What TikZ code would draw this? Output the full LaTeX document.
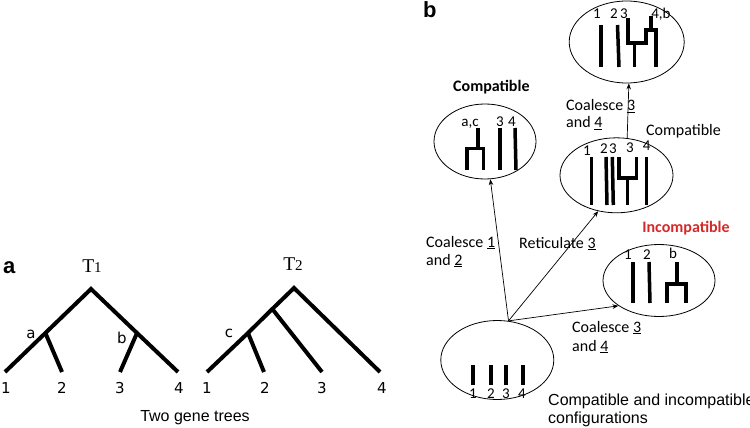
\documentclass[tikz,border=0pt]{standalone}
\usepackage{fontspec}
\setmainfont{Carlito}
\newfontfamily\arialf{Liberation Sans}
\newfontfamily\dejaf{DejaVu Sans}
\newfontfamily\timesf{Liberation Serif}
\usetikzlibrary{shapes.geometric,arrows.meta}
\definecolor{incred}{RGB}{214,40,40}
\begin{document}
\begin{tikzpicture}[x=1pt,y=-1pt,
  branch/.style={line width=4pt},
  bar/.style={line width=3.5pt},
  oval/.style={draw, ellipse, line width=0.8pt, inner sep=0pt},
  link/.style={line width=0.7pt, -{Stealth[length=6pt,width=4.5pt]}},
  lbl/.style={inner sep=0pt, anchor=base},
  lblw/.style={inner sep=0pt, anchor=base west},
  panellabel/.style={lblw, font=\arialf\bfseries\fontsize{22}{26}\selectfont},
  leaf/.style={lbl, font=\dejaf\fontsize{15}{18}\selectfont},
  tname/.style={lbl, font=\timesf\fontsize{19.5}{22}\selectfont},
  captext/.style={lbl, font=\arialf\fontsize{16}{19}\selectfont},
  blab/.style={lblw, font=\fontsize{16}{19}\selectfont},
  inlab/.style={lbl, font=\fontsize{15}{18}\selectfont}
]
\useasboundingbox (0,0) rectangle (750,428);

% ---------------- panel a ----------------
\node[panellabel] (pa) at (3,273) {a};
\node[tname] (t1) at (92,272) {T{\fontsize{15}{18}\selectfont 1}};
\node[tname] (t2) at (293,270) {T{\fontsize{15}{18}\selectfont 2}};

% T1
\coordinate (r1) at (91,289);
\coordinate (na) at (45.4,333);
\coordinate (nb) at (137,333);
\coordinate (a1) at (5,372);
\coordinate (a2) at (62,372);
\coordinate (a3) at (120,372);
\coordinate (a4) at (178,372);
\draw[branch] (a1) -- (na) -- (r1) -- (nb) -- (a4);
\draw[branch] (na) -- (a2);
\draw[branch] (nb) -- (a3);
\node[leaf] (la) at (31,338) {a};
\node[leaf] (lb) at (122,343) {b};
\node[leaf] (a1l) at (6,393) {1};
\node[leaf] (a2l) at (62,393) {2};
\node[leaf] (a3l) at (120,393) {3};
\node[leaf] (a4l) at (179,393) {4};

% T2
\coordinate (r2) at (294,288);
\coordinate (n1) at (272.3,309);
\coordinate (nc) at (248,333);
\coordinate (b1) at (207,372);
\coordinate (b2) at (264,372);
\coordinate (b3) at (322,372);
\coordinate (b4) at (380,372);
\draw[branch] (b1) -- (nc) -- (n1) -- (r2) -- (b4);
\draw[branch] (nc) -- (b2);
\draw[branch] (n1) -- (b3);
\node[leaf] (lc) at (229,337) {c};
\node[leaf] (b1l) at (207,393) {1};
\node[leaf] (b2l) at (265,393) {2};
\node[leaf] (b3l) at (322,393) {3};
\node[leaf] (b4l) at (382,393) {4};

\node[captext] (two) at (195,421) {Two gene trees};

% ---------------- panel b ----------------
\node[panellabel] (pb) at (423,18) {b};

\node[oval, minimum width=115pt, minimum height=82pt] (T) at (626.7,42) {};
\node[oval, minimum width=102pt, minimum height=75pt] (L) at (485,141.5) {};
\node[oval, minimum width=113pt, minimum height=75pt] (M) at (616.5,175.3) {};
\node[oval, minimum width=112pt, minimum height=72pt] (I) at (659,280.5) {};
\node[oval, minimum width=113pt, minimum height=79pt] (B) at (497.3,360) {};

% top ellipse contents
\node[inlab] (t1l) at (597,18.5) {1};
\node[inlab] (t2l) at (614,18.5) {2};
\node[inlab] (t3l) at (624,18.5) {3};
\node[inlab] (t4l) at (661,18.5) {4,b};
\draw[bar] (601,25) -- (601,67);
\draw[bar] (617.5,25) -- (619,67);
\draw[bar] (628,18) -- (628,43) -- (646,43) -- (646,30) -- (656,30) -- (656,67);
\draw[bar] (651,16) -- (651,30);
\draw[bar] (634.5,43) -- (634.5,67);

% left ellipse contents
\node[inlab] (l1l) at (470,126) {a,c};
\node[inlab] (l2l) at (500,126) {3};
\node[inlab] (l3l) at (512,126) {4};
\draw[bar] (478,128) -- (478,148.5);
\draw[bar] (467,170) -- (467,148.5) -- (483.5,148.5) -- (483.5,170);
\draw[bar] (500,128) -- (500,170);
\draw[bar] (515,128) -- (516,170);

% middle ellipse contents
\node[inlab] (m1l) at (587,155) {1};
\node[inlab] (m2l) at (604,153) {2};
\node[inlab] (m3l) at (613,153) {3};
\node[inlab] (m4l) at (630,152.5) {3};
\node[inlab] (m5l) at (646.7,150.7) {4};
\draw[bar] (591.7,157) -- (591.7,205);
\draw[bar] (606,157) -- (607,205);
\draw[bar] (612.3,157) -- (613.3,205);
\draw[bar] (619,157) -- (619,178) -- (636.7,178) -- (636.7,157);
\draw[bar] (627.7,178) -- (627.7,205);
\draw[bar] (646.7,157) -- (646.7,205);

% incompatible ellipse contents
\node[inlab] (i1l) at (628,259) {1};
\node[inlab] (i2l) at (647,259) {2};
\node[inlab] (i3l) at (673,258) {b};
\draw[bar] (633,262) -- (633,303);
\draw[bar] (649,262) -- (650,303);
\draw[bar] (677,262) -- (677,284);
\draw[bar] (667,303) -- (667,284) -- (686,284) -- (686,303);

% bottom ellipse contents
\draw[bar] (473,365) -- (473,385);
\draw[bar] (491,365) -- (491,385);
\draw[bar] (506,365) -- (506,385);
\draw[bar] (523,365) -- (523,385);
\node[inlab] (o1l) at (473,398) {1};
\node[inlab] (o2l) at (491,398) {2};
\node[inlab] (o3l) at (506,398) {3};
\node[inlab] (o4l) at (522,398) {4};

% arrows
\draw[link] (B.74) -- (L.278);
\draw[link] (B.74) -- (M.243);
\draw[link] (B.74) -- (I.212);
\draw[link] (M.74) -- (T.273);

% labels
\node[lblw, font=\bfseries\fontsize{16}{19}\selectfont] (comp1) at (453,92) {Compatible};
\node[blab] (c34a) at (566,110.5) {Coalesce \underline{3}};
\node[blab] (c34b) at (566,128) {and \underline{4}};
\node[blab] (comp2) at (646,135) {Compatible};
\node[lbl, font=\bfseries\fontsize{16}{19}\selectfont, text=incred] (incomp) at (686,232) {Incompatible};
\node[blab] (c12a) at (426,247) {Coalesce \underline{1}};
\node[blab] (c12b) at (426,265) {and \underline{2}};
\node[blab] (ret) at (519,248) {Reticulate \underline{3}};
\node[blab] (c34c) at (572,332) {Coalesce \underline{3}};
\node[blab] (c34d) at (572,351) {and \underline{4}};
\node[lblw, font=\arialf\fontsize{16}{18}\selectfont] (cfg1) at (548,405) {Compatible and incompatible};
\node[lblw, font=\arialf\fontsize{16}{18}\selectfont] (cfg2) at (548,423) {configurations};
\end{tikzpicture}
\end{document}
